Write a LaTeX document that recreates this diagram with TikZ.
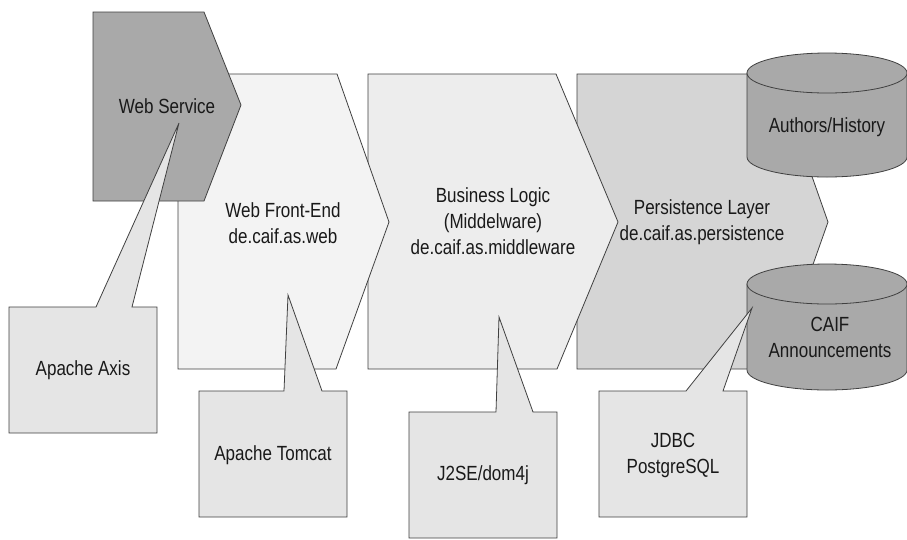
\documentclass[tikz,border=0pt]{standalone}
\usepackage{fontspec}
\setmainfont{Liberation Sans}[FakeStretch=0.83]
\definecolor{wsfill}{HTML}{A9A9A9}
\definecolor{fefill}{HTML}{F3F3F3}
\definecolor{blfill}{HTML}{EDEDED}
\definecolor{plfill}{HTML}{D5D5D5}
\definecolor{cofill}{HTML}{E5E5E5}
\definecolor{dbfill}{HTML}{A9A9A9}
\definecolor{edge}{HTML}{404040}
\tikzset{
  shapeline/.style={draw=edge, line width=0.8pt, line join=miter},
  lbl/.style={align=center, inner sep=0pt, font=\fontsize{20.5}{26}\selectfont, text=black!90},
}
\begin{document}
\begin{tikzpicture}[x=1pt,y=-1pt]
\useasboundingbox[fill=white] (0,0) rectangle (907,539);
% layers (back to front)
\path[shapeline, fill=plfill] (577,74) -- (776,74) -- (828,222) -- (776,369) -- (577,369) -- cycle;
\path[shapeline, fill=blfill] (368,74) -- (556,74) -- (618,222) -- (557,369) -- (368,369) -- cycle;
\path[shapeline, fill=fefill] (178,74) -- (337,74) -- (389,222) -- (336,369) -- (178,369) -- cycle;
\path[shapeline, fill=wsfill] (93,12) -- (204,12) -- (241,105) -- (204,201) -- (93,201) -- cycle;
% databases
\path[shapeline, fill=dbfill] (747,73) -- (747,157) .. controls (747,168) and (782.8,177) .. (827,177) .. controls (871.2,177) and (907,168) .. (907,157) -- (907,73) -- cycle;
\path[shapeline, fill=dbfill] (827,73) ellipse [x radius=80, y radius=20];
\path[shapeline, fill=dbfill] (747,284) -- (747,370) .. controls (747,381) and (782.8,390) .. (827,390) .. controls (871.2,390) and (907,381) .. (907,370) -- (907,284) -- cycle;
\path[shapeline, fill=dbfill] (827,284) ellipse [x radius=80, y radius=20];
% callouts
\path[shapeline, fill=cofill] (9,307) -- (96,307) -- (179,123) -- (132,307) -- (157,307) -- (157,433) -- (9,433) -- cycle;
\path[shapeline, fill=cofill] (199,391) -- (284,391) -- (288,295) -- (322,391) -- (347,391) -- (347,517) -- (199,517) -- cycle;
\path[shapeline, fill=cofill] (409,412) -- (496,412) -- (499,317) -- (533,412) -- (557,412) -- (557,538) -- (409,538) -- cycle;
\path[shapeline, fill=cofill] (599,391) -- (686,391) -- (752,308) -- (723,391) -- (747,391) -- (747,517) -- (599,517) -- cycle;
% labels
\node[lbl] (ws) at (167,106) {Web Service};
\node[lbl] (fe) at (283,223) {Web Front-End\\de.caif.as.web};
\node[lbl] (bl) at (493,221) {Business Logic\\(Middelware)\\de.caif.as.middleware};
\node[lbl] (pl) at (702,222) {Persistence Layer\\de.caif.as.persistence};
\node[lbl] (ah) at (827,127) {Authors/History};
\node[lbl] (ca) at (830,337) {CAIF\\Announcements};
\node[lbl] (ax) at (83,370) {Apache Axis};
\node[lbl] (tc) at (273,455) {Apache Tomcat};
\node[lbl] (js) at (483,475) {J2SE/dom4j};
\node[lbl] (jd) at (673,455) {JDBC\\PostgreSQL};
\end{tikzpicture}
\end{document}
